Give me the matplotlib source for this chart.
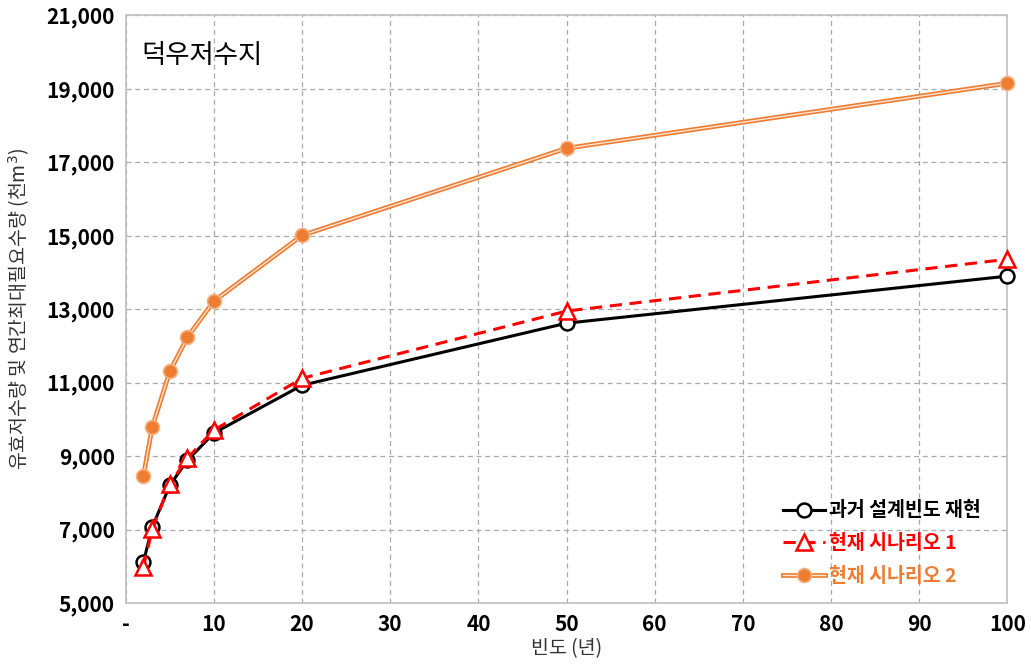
import numpy as np
import matplotlib.pyplot as plt
import matplotlib.patheffects as pe

plt.rcParams['font.family'] = ['Noto Sans CJK KR', 'DejaVu Sans']

freq = [2, 3, 5, 7, 10, 20, 50, 100]
past = [6120, 7070, 8210, 8890, 9630, 10930, 12620, 13900]
scen1 = [5980, 7010, 8240, 8950, 9710, 11120, 12950, 14360]
scen2 = [8460, 9790, 11310, 12240, 13220, 15010, 17380, 19150]

labels = ['과거 설계빈도 재현', '현재 시나리오 1', '현재 시나리오 2']
orange = '#ED7D31'

fig = plt.figure(figsize=(10.31, 6.65), dpi=100)
ax = fig.add_axes([0.122, 0.093, 0.855, 0.884])

h1, = ax.plot(freq, past, color='black', lw=2.2, marker='o', ms=10,
              mfc='white', mec='black', mew=1.8, zorder=4, clip_on=False)
h2, = ax.plot(freq, scen1, color='#FF0000', lw=2.2, ls=(0, (4, 2.5)),
              marker='^', ms=12, mfc='white', mec='#FF0000', mew=1.8,
              zorder=5, clip_on=False)
# double (hollow) orange line
l3, = ax.plot(freq, scen2, color='#FBE5D6', lw=1.0, zorder=3,
              path_effects=[pe.Stroke(linewidth=3.4, foreground=orange),
                            pe.Normal()])
m3, = ax.plot(freq, scen2, ls='none', marker='o', ms=10, mfc=orange,
              mec='#F4B183', mew=1.2, zorder=3, clip_on=False)

ax.set_xlim(0, 100)
ax.set_ylim(5000, 21000)
ax.set_xticks(np.arange(0, 101, 10))
ax.set_xticklabels(['-'] + [str(v) for v in range(10, 101, 10)])
ax.set_yticks(np.arange(5000, 21001, 2000))
ax.set_yticklabels([f'{v:,}' for v in range(5000, 21001, 2000)])
for t in ax.get_xticklabels() + ax.get_yticklabels():
    t.set_fontweight('bold')
    t.set_fontsize(15)
ax.tick_params(length=0, pad=8)

ax.grid(True, ls=(0, (4, 3)), color='#aaaaaa', lw=0.9)
for s in ax.spines.values():
    s.set_color('#c0c0c0')
    s.set_linewidth(1.2)

ax.set_xlabel('빈도 (년)', fontsize=14, labelpad=2, color='#333333')
ax.set_ylabel('유효저수량 및 연간최대필요수량 (천m$^3$)', fontsize=14,
              color='#333333', labelpad=10)

ax.text(0.018, 0.955, '덕우저수지', transform=ax.transAxes, fontsize=19,
        va='top', ha='left')

leg = ax.legend([h1, h2, (l3, m3)], labels, loc='lower right',
                bbox_to_anchor=(0.99, 0.0), frameon=False,
                fontsize=14, handlelength=2.2, handletextpad=0.2,
                labelspacing=0.7)
for txt, c in zip(leg.get_texts(), ['black', '#FF0000', orange]):
    txt.set_color(c)
    txt.set_fontweight('bold')

fig.savefig('out.png', dpi=100)
